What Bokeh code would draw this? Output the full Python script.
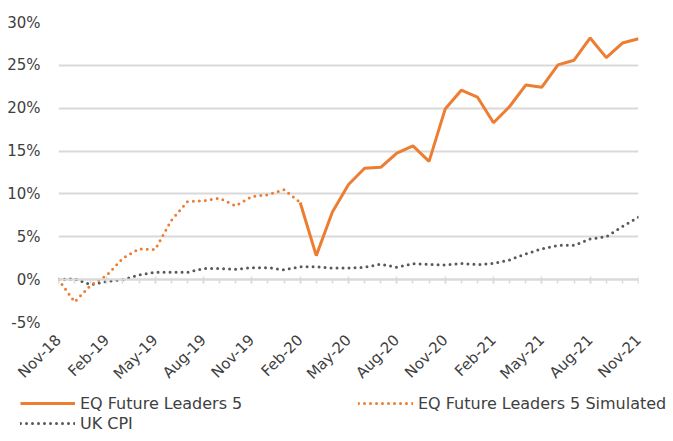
import math
from bokeh.plotting import figure
from bokeh.layouts import column
from bokeh.models import Range1d, FixedTicker, LinearAxis, Legend, LegendItem
from bokeh.embed import file_html
from bokeh.resources import INLINE

# ---- data (monthly, Nov-18 .. Nov-21) ----
tick_labels = ["Nov-18", "Feb-19", "May-19", "Aug-19", "Nov-19", "Feb-20", "May-20",
               "Aug-20", "Nov-20", "Feb-21", "May-21", "Aug-21", "Nov-21"]
months_per_tick = 3

# EQ Future Leaders 5 Simulated (Nov-18 .. Feb-20), % cumulative
fl5_simulated = [0.0, -2.6, -0.65, 0.5, 2.5, 3.6, 3.5, 6.9, 9.1, 9.2, 9.5, 8.6,
                 9.7, 9.9, 10.5, 9.0]
# EQ Future Leaders 5 (Feb-20 .. Nov-21)
fl5_actual = [9.0, 2.8, 7.9, 11.1, 13.0, 13.1, 14.75, 15.6, 13.8, 19.9, 22.1, 21.3,
              18.3, 20.2, 22.7, 22.45, 25.05, 25.6, 28.2, 25.9, 27.6, 28.1]
# UK CPI (Nov-18 .. Nov-21)
uk_cpi = [0.0, 0.1, -0.6, -0.2, 0.0, 0.55, 0.85, 0.85, 0.85, 1.3, 1.3, 1.2, 1.4,
          1.4, 1.15, 1.5, 1.5, 1.35, 1.35, 1.45, 1.8, 1.45, 1.85, 1.8, 1.7, 1.9,
          1.75, 1.9, 2.3, 3.0, 3.6, 4.0, 4.0, 4.75, 5.0, 6.2, 7.3]
y_ticks = [-5, 0, 5, 10, 15, 20, 25, 30]
series_names = ["EQ Future Leaders 5", "EQ Future Leaders 5 Simulated", "UK CPI"]

ORANGE = "#ED7D31"
GREY_LINE = "#595959"
GRID = "#d9d9d9"
TEXT = "#404040"
FONT = "DejaVu Sans"
DOT = dict(line_width=3, line_dash="0 6", line_cap="round")

n_months = len(uk_cpi)
x_all = list(range(n_months))
x_sim = list(range(len(fl5_simulated)))
start_actual = len(fl5_simulated) - 1
x_act = list(range(start_actual, start_actual + len(fl5_actual)))

W = 673
p = figure(width=W, height=392, output_backend="svg", toolbar_location=None,
           x_range=Range1d(0, n_months - 1), y_range=Range1d(y_ticks[0], y_ticks[-1]),
           min_border_left=58, min_border_right=W - 638, min_border_top=22,
           min_border_bottom=58)
p.frame_align = False
p.outline_line_color = None
p.background_fill_color = "white"
p.border_fill_color = "white"

p.line(x_all, uk_cpi, line_color=GREY_LINE, **DOT)
p.line(x_sim, fl5_simulated, line_color=ORANGE, **DOT)
p.line(x_act, fl5_actual, line_color=ORANGE, line_width=3)

major = [i * months_per_tick for i in range(len(tick_labels))]
ticker = FixedTicker(ticks=major, minor_ticks=x_all)

# label axis at the bottom
xa = p.xaxis[0]
xa.ticker = ticker
xa.major_label_overrides = {m: lab for m, lab in zip(major, tick_labels)}
xa.major_label_orientation = math.pi / 4
xa.axis_line_color = None
xa.major_tick_line_color = None
xa.minor_tick_line_color = None
xa.major_label_text_font = FONT
xa.major_label_text_font_size = "15px"
xa.major_label_text_color = TEXT
xa.major_label_standoff = 9

# tick axis at zero
x0 = LinearAxis(fixed_location=0, ticker=ticker)
x0.major_label_text_font_size = "0px"
x0.major_label_overrides = {m: "" for m in major}
x0.axis_line_color = GRID
x0.axis_line_width = 2
x0.major_tick_line_color = GRID
x0.major_tick_line_width = 1.5
x0.major_tick_in = 3
x0.major_tick_out = 4
x0.minor_tick_line_color = GRID
x0.minor_tick_line_width = 1.5
x0.minor_tick_in = 0
x0.minor_tick_out = 4
p.add_layout(x0, "below")

ya = p.yaxis[0]
ya.ticker = FixedTicker(ticks=y_ticks)
ya.major_label_overrides = {v: f"{v}%" for v in y_ticks}
ya.axis_line_color = None
ya.major_tick_line_color = None
ya.minor_tick_line_color = None
ya.major_label_text_font = FONT
ya.major_label_text_font_size = "15px"
ya.major_label_text_color = TEXT
ya.major_label_standoff = 12

p.xgrid.grid_line_color = None
p.ygrid.ticker = FixedTicker(ticks=y_ticks)
p.ygrid.grid_line_color = GRID
p.ygrid.grid_line_width = 2

# ---- legend strip below the chart (its lines lie outside its own view) ----
LH = 41
q = figure(width=W, height=LH, output_backend="svg", toolbar_location=None,
           x_axis_location=None, y_axis_location=None,
           x_range=Range1d(-1000, -999), y_range=Range1d(-1000, -999),
           min_border_left=0, min_border_right=0, min_border_top=0, min_border_bottom=0)
q.frame_align = False
q.outline_line_color = None
q.xgrid.visible = False
q.ygrid.visible = False
l_act = q.line(x_act, fl5_actual, line_color=ORANGE, line_width=3)
l_sim = q.line(x_sim, fl5_simulated, line_color=ORANGE, **DOT)
l_cpi = q.line(x_all, uk_cpi, line_color=GREY_LINE, **DOT)

def style_legend(lg):
    lg.background_fill_alpha = 0
    lg.border_line_alpha = 0
    lg.padding = 0
    lg.margin = 0
    lg.spacing = 0
    lg.glyph_width = 55
    lg.glyph_height = 20
    lg.label_height = 20
    lg.label_standoff = 5
    lg.label_text_font = FONT
    lg.label_text_font_size = "16px"
    lg.label_text_color = TEXT

leg1 = Legend(items=[LegendItem(label=series_names[0], renderers=[l_act]),
                     LegendItem(label=series_names[1], renderers=[l_sim])],
              orientation="horizontal", location=(20, 20))
style_legend(leg1)
leg1.label_width = 278
leg2 = Legend(items=[LegendItem(label=series_names[2], renderers=[l_cpi])],
              orientation="horizontal", location=(20, 0))
style_legend(leg2)
q.add_layout(leg1, "center")
q.add_layout(leg2, "center")

open("out.html", "w").write(file_html(column(p, q), INLINE))
